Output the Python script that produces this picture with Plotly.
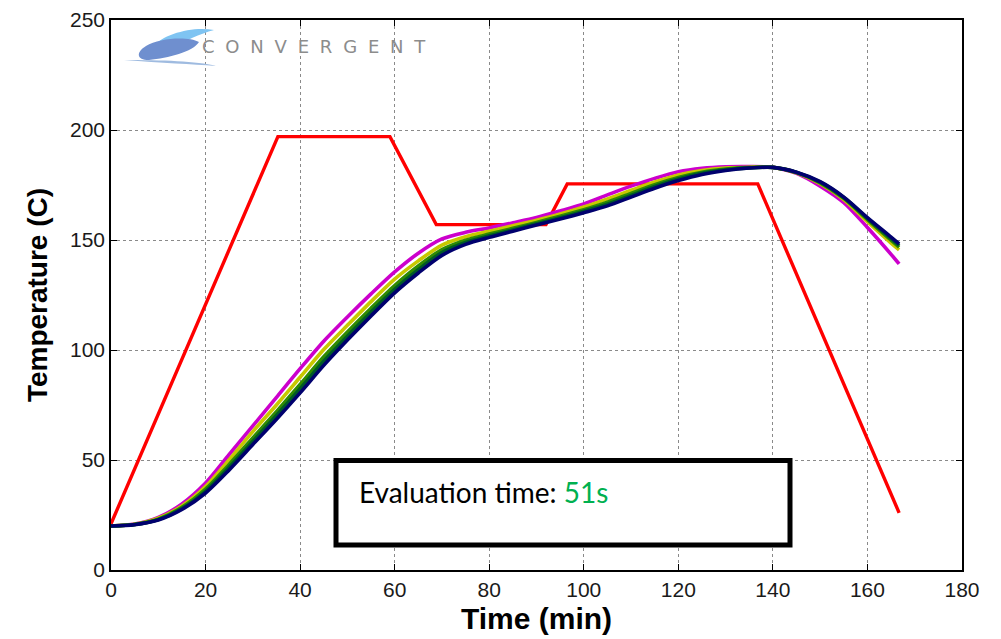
import plotly.graph_objects as go

# ---------------- data ----------------
profile_t = [0, 35.3, 59, 68.8, 92, 96.5, 136.8, 166.7]
profile_T = [21, 197, 197, 157, 157, 175.5, 175.5, 26]

sim_t = [0, 5, 10, 15, 20, 25, 30, 35, 40, 45, 50, 55, 60, 65, 70, 75, 80, 85, 90, 95,
         100, 105, 110, 115, 120, 125, 130, 135, 140, 145, 150, 155, 160, 165, 166.7]

magenta_T = [20, 20.9, 23.9, 30, 39.5, 52.5, 65.5, 78.5, 91.5, 104, 115, 125.5, 135.5, 144, 150.5,
             153.5, 155.5, 157.8, 160.2, 163.2, 166.4, 170.5, 174.5, 178, 181, 182.6, 183.3,
             183.4, 183, 180.3, 174.5, 167, 155.7, 143.5, 139.1]
yellow_T = [20, 20.8, 23.5, 29.1, 37.9, 50.1, 62.9, 75, 87.6, 100.2, 111.2, 122, 132.2, 140.5,
            147.7, 151.5, 154, 156.5, 159, 161.8, 165, 168.7, 172.6, 176.4, 179.6, 181.6, 182.7,
            183.1, 183, 180.6, 175.6, 168.4, 158.3, 148.6, 145.5]
green_T = [20, 20.7, 23.1, 28.5, 36.8, 48, 60, 72, 84.3, 96.9, 108.2, 119, 129.3, 138.2, 145.6,
           149.9, 152.7, 155.3, 158, 160.8, 163.8, 167.2, 171.2, 175.1, 178.4, 180.8, 182.2,
           182.9, 183, 180.7, 176, 168.9, 159.3, 149.9, 146.7]
darkgreen_T = [20, 20.65, 22.9, 27.9, 35.8, 46.7, 58.4, 70.2, 82.4, 94.9, 106.3, 117.2, 127.6,
               136.5, 144.3, 148.9, 151.9, 154.6, 157.4, 160.1, 163.1, 166.3, 170.3, 174.3,
               177.7, 180.3, 181.9, 182.8, 183, 180.75, 176.3, 169.3, 159.8, 150.7, 147.5]
navy_T = [20, 20.6, 22.7, 27.5, 35, 45.5, 57, 68.5, 80.5, 93, 104.5, 115.5, 126, 135, 143,
          148, 151.2, 154, 156.8, 159.5, 162.4, 165.5, 169.5, 173.5, 177, 179.8, 181.6, 182.7,
          183, 180.8, 176.5, 169.5, 160.2, 151.3, 148.2]

sim_series = [
    ("magenta", magenta_T, "#cc00cc"),
    ("yellow", yellow_T, "#c8c800"),
    ("green", green_T, "#2e8b00"),
    ("darkgreen", darkgreen_T, "#005a28"),
    ("navy", navy_T, "#00006e"),
]

x_ticks = [0, 20, 40, 60, 80, 100, 120, 140, 160, 180]
y_ticks = [0, 50, 100, 150, 200, 250]

# ---------------- figure ----------------
fig = go.Figure()

fig.add_trace(go.Scatter(x=profile_t, y=profile_T, mode="lines",
                         line=dict(color="#ff0000", width=3.4), showlegend=False))

for name, vals, col in sim_series:
    fig.add_trace(go.Scatter(x=sim_t, y=vals, mode="lines", name=name,
                             line=dict(color=col, width=3.6, shape="spline", smoothing=0.8),
                             showlegend=False))

# page has an 8px body margin; figure sized to fit the window
OFF = 8
W, H = 1001 - OFF, 639 - OFF
L, R, T, B = 111 - OFF, 39, 20 - OFF, 69
pw, ph = W - L - R, H - T - B


def px(xp):  # page pixel -> paper x
    return (xp - OFF - L) / pw


def py(yp):  # page pixel -> paper y
    return (H - B - (yp - OFF)) / ph


axis_common = dict(
    showline=True, linecolor="black", linewidth=1.5, mirror="ticks",
    ticks="inside", ticklen=6, tickwidth=1, tickcolor="black",
    showgrid=True, gridcolor="#8a8a8a", griddash="dot", gridwidth=1,
    zeroline=False, automargin=False, ticklabeloverflow="allow",
    tickfont=dict(family="Liberation Sans", size=21, color="#1a1a1a"),
)

fig.update_xaxes(range=[0, 180], tickvals=x_ticks, ticktext=[str(v) for v in x_ticks],
                 title=dict(text="<b>Time (min)</b>",
                            font=dict(family="Liberation Sans", size=30, color="black"),
                            standoff=8),
                 **axis_common)
fig.update_yaxes(range=[0, 250], tickvals=y_ticks, ticktext=[str(v) for v in y_ticks],
                 title=dict(text="<b>Temperature (C)</b>",
                            font=dict(family="Liberation Sans", size=28, color="black"),
                            standoff=14),
                 **axis_common)

shapes = [
    # evaluation-time box
    dict(type="rect", xref="paper", yref="paper",
         x0=px(336), x1=px(790), y0=py(545), y1=py(460.5),
         line=dict(color="black", width=5), fillcolor="white", layer="above"),
    # logo swoosh (approximation)
    dict(type="path", xref="paper", yref="paper",
         path=(f"M {px(152)},{py(47)} C {px(164)},{py(34)} {px(192)},{py(26)} {px(214)},{py(30)} "
               f"C {px(200)},{py(34)} {px(184)},{py(40)} {px(174)},{py(50)} "
               f"C {px(166)},{py(52)} {px(156)},{py(51)} {px(152)},{py(47)} Z"),
         fillcolor="#7fc4f2", line=dict(width=0), layer="above"),
    dict(type="path", xref="paper", yref="paper",
         path=(f"M {px(146)},{py(46)} C {px(159)},{py(38)} {px(188)},{py(36)} {px(199)},{py(42)} "
               f"C {px(193)},{py(52)} {px(168)},{py(58)} {px(149)},{py(60)} "
               f"C {px(136)},{py(60)} {px(136)},{py(52)} {px(146)},{py(46)} Z"),
         fillcolor="#6f8fcf", line=dict(width=0), layer="above"),
    dict(type="path", xref="paper", yref="paper",
         path=(f"M {px(124)},{py(60)} C {px(162)},{py(60)} {px(197)},{py(61)} {px(216)},{py(66)} "
               f"C {px(192)},{py(64)} {px(162)},{py(63)} {px(124)},{py(60)} Z"),
         fillcolor="#9fbbe0", line=dict(width=0), layer="above"),
]

sp = "\u2002\u200a"
annotations = [
    dict(xref="paper", yref="paper", x=px(357), y=py(492), xanchor="left", yanchor="middle",
         text="Evaluation time: <span style='color:#00b050'>51s</span>", showarrow=False,
         font=dict(family="Lato", size=28, color="black")),
    dict(xref="paper", yref="paper", x=px(200), y=py(47), xanchor="left", yanchor="middle",
         text=sp.join("CONVERGENT"), showarrow=False,
         font=dict(family="DejaVu Sans", size=18, color="#8c8c8c")),
]

fig.update_layout(
    width=W, height=H,
    margin=dict(l=L, r=R, t=T, b=B),
    paper_bgcolor="white", plot_bgcolor="white",
    shapes=shapes, annotations=annotations,
    showlegend=False,
)

fig.write_html("out.html")
